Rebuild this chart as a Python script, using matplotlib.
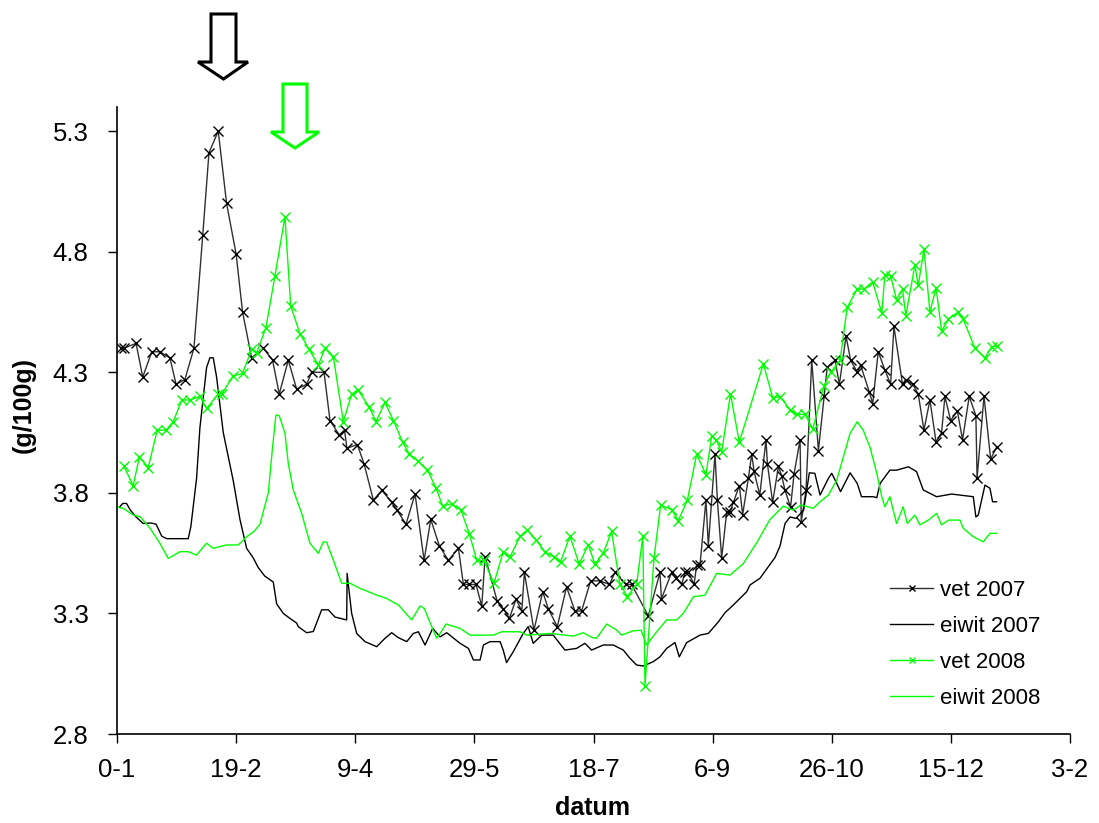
import matplotlib
matplotlib.use("Agg")
import matplotlib.pyplot as plt
from matplotlib.patches import Polygon

plt.rcParams['font.family'] = ['Liberation Sans', 'DejaVu Sans']

# x = dagnummer (0 = 0-1), y = g/100g
vet07_dag = [1.5, 3, 8, 10.8, 14.6, 18, 22.2, 24.8, 28.5, 32.3, 36, 38.6, 42.5, 46, 50, 52.7,
             56.5, 61.4, 65.3, 68.1, 71.9, 75.4, 79.6, 81.7, 86.9, 89.4, 93.3, 95.5, 96.5, 100.9,
             103.7, 107.6, 111.2, 115.3, 117.4, 121.3, 125.1, 128.9, 131.7, 135.3, 139.1, 143.3,
             145.4, 147.9, 150.7, 153.1, 154.5, 159.6, 162.1, 164.7, 167.5, 169.9, 171, 175,
             178.7, 181, 184.8, 188.7, 192.2, 195, 198.8, 202.7, 206.7, 209, 213.6, 216, 223,
             227.9, 228.5, 232.8, 234.6, 237, 238.4, 239.8, 242.2, 243.3, 244.7, 247.2, 248.2,
             251, 252, 253.8, 255.9, 257.3, 258.7, 261.2, 262.6, 265, 266.4, 267.4, 269.8,
             272.4, 273, 275.2, 277.6, 279, 280.4, 282.7, 284.2, 286.7, 287.2, 289.2, 291.6,
             294.4, 296.8, 298.1, 301.4, 303.2, 306, 307.9, 310.7, 312.1, 315.7, 317.2, 319.5,
             322.3, 324.7, 326.1, 329.7, 331, 334, 336.3, 338.7, 341.2, 343.8, 346.1, 347.5,
             349.9, 352.7, 354.9, 357.7, 360.5, 361, 363.9, 366.7, 369.2]
vet07 = [4.40, 4.40, 4.42, 4.28, 4.385, 4.385, 4.36, 4.25, 4.27, 4.40, 4.87, 5.21, 5.30, 5.00,
         4.79, 4.55, 4.36, 4.40, 4.35, 4.21, 4.35, 4.23, 4.25, 4.30, 4.30, 4.10, 4.04, 4.06,
         3.985, 4.00, 3.92, 3.77, 3.81, 3.76, 3.73, 3.67, 3.795, 3.52, 3.69, 3.58, 3.52, 3.57,
         3.42, 3.42, 3.42, 3.33, 3.535, 3.35, 3.32, 3.28, 3.36, 3.31, 3.47, 3.23, 3.39, 3.32,
         3.245, 3.41, 3.31, 3.31, 3.435, 3.435, 3.42, 3.47, 3.42, 3.42, 3.29, 3.47, 3.36, 3.47,
         3.445, 3.42, 3.47, 3.47, 3.42, 3.50, 3.50, 3.77, 3.58, 3.96, 3.77, 3.53, 3.72, 3.72,
         3.76, 3.83, 3.71, 3.86, 3.96, 3.89, 3.79, 4.02, 3.92, 3.76, 3.91, 3.87, 3.81, 3.74,
         3.88, 4.02, 3.68, 3.81, 4.35, 3.975, 4.20, 4.32, 4.35, 4.25, 4.45, 4.35, 4.30, 4.33,
         4.22, 4.17, 4.385, 4.31, 4.25, 4.49, 4.25, 4.27, 4.25, 4.21, 4.06, 4.185, 4.01, 4.05,
         4.20, 4.10, 4.14, 4.02, 4.20, 4.12, 3.86, 4.20, 3.94, 3.99]

eiwit07_dag = [1, 2.4, 4, 5.5, 8, 11, 14.3, 16.4, 18.8, 20.9, 25, 29.9, 31, 33.4, 34.8, 37.6,
               39, 40.4, 41.8, 44.6, 48.8, 51.6, 54.4, 57.2, 59.3, 62, 65.6, 67, 69.8, 72.5,
               75.4, 76.1, 79.6, 82.4, 85.9, 88.7, 91.5, 96.4, 96.6, 97.2, 98.5, 100.6, 104.1,
               109, 112.5, 115.3, 118, 121.6, 124.4, 126.5, 129.3, 132.5, 135.6, 138.4, 144,
               147.5, 149.6, 152.4, 153.8, 156.6, 160.8, 162.1, 163.5, 166.3, 170.5, 172.6,
               174.7, 178.3, 183.1, 188, 192.9, 196.4, 199.2, 204.1, 208.3, 212.5, 215.3,
               218.1, 220.9, 225.1, 227.9, 230.7, 234.2, 236, 239.1, 244.7, 248.2, 252.4,
               255.2, 258.7, 264.3, 265.7, 269.9, 273.4, 276.2, 278.3, 280.4, 282.5, 285,
               288.2, 290.6, 292.9, 295.1, 298.6, 300, 302.1, 303.7, 307.7, 310.7, 312.5,
               317.4, 318.9, 320.3, 324.4, 327.2, 332.2, 335.6, 338.4, 344, 350.3, 359.4,
               360.5, 361.5, 364.3, 366.4, 367.5, 369.2]
eiwit07 = [3.74, 3.756, 3.756, 3.73, 3.70, 3.673, 3.675, 3.67, 3.62, 3.61, 3.61, 3.61, 3.66,
           3.86, 4.07, 4.32, 4.36, 4.36, 4.28, 4.05, 3.85, 3.69, 3.57, 3.53, 3.49, 3.455, 3.43,
           3.34, 3.30, 3.28, 3.26, 3.245, 3.22, 3.225, 3.315, 3.315, 3.285, 3.273, 3.466, 3.41,
           3.30, 3.217, 3.183, 3.162, 3.197, 3.22, 3.20, 3.183, 3.217, 3.224, 3.169, 3.238,
           3.203, 3.22, 3.176, 3.155, 3.107, 3.107, 3.169, 3.183, 3.183, 3.148, 3.096, 3.141,
           3.217, 3.245, 3.176, 3.21, 3.21, 3.148, 3.155, 3.176, 3.148, 3.169, 3.169, 3.148,
           3.114, 3.086, 3.082, 3.10, 3.12, 3.155, 3.179, 3.12, 3.179, 3.21, 3.217, 3.265,
           3.303, 3.335, 3.39, 3.418, 3.446, 3.494, 3.532, 3.58, 3.673, 3.70, 3.694, 3.729,
           3.883, 3.881, 3.791, 3.86, 3.881, 3.839, 3.805, 3.883, 3.839, 3.784, 3.784, 3.78,
           3.839, 3.894, 3.894, 3.908, 3.888, 3.812, 3.784, 3.795, 3.784, 3.70, 3.708, 3.832,
           3.819, 3.763, 3.763]

vet08_dag = [2.9, 6.8, 9.4, 13.1, 16.9, 20.6, 23.6, 27.2, 30.6, 34.8, 37.6, 42.5, 44, 48.8,
             52.7, 56.5, 58.6, 62.5, 66.3, 70.5, 72.9, 76.8, 80.6, 84.5, 87.3, 90.8, 95, 98.5,
             101.3, 105.9, 108.7, 112.5, 116, 119.9, 122.7, 126.5, 130.3, 133.9, 136.7, 140.5,
             144.3, 147.9, 151, 154, 158.2, 162.1, 165, 169.2, 172.2, 175.9, 179.6, 183.4,
             186.2, 190.1, 194, 197.8, 200.6, 204.1, 207.6, 211.1, 214.2, 218.1, 220.7, 221.6,
             225.4, 228.2, 232.8, 235.6, 239.4, 243.3, 247.2, 249.6, 251.5, 253.8, 257.5, 261.2,
             271.3, 275.2, 278.3, 282.5, 285.3, 288.8, 292, 296.8, 299.6, 303.5, 306.5, 310.7,
             313.5, 317.2, 321, 322.3, 324.7, 327.2, 329.7, 331.1, 334.9, 336.3, 338.7, 341.2,
             343.8, 346.1, 348.9, 353.1, 355.2, 360.1, 364.3, 367.1, 369.2]
vet08 = [3.91, 3.83, 3.95, 3.905, 4.06, 4.06, 4.095, 4.185, 4.185, 4.20, 4.15, 4.21, 4.21,
         4.285, 4.295, 4.395, 4.38, 4.485, 4.70, 4.945, 4.575, 4.46, 4.395, 4.33, 4.40, 4.365,
         4.095, 4.21, 4.225, 4.155, 4.095, 4.175, 4.10, 4.01, 3.96, 3.93, 3.895, 3.82, 3.745,
         3.755, 3.73, 3.63, 3.52, 3.52, 3.425, 3.555, 3.535, 3.62, 3.645, 3.605, 3.555, 3.535,
         3.515, 3.62, 3.505, 3.585, 3.505, 3.55, 3.64, 3.42, 3.37, 3.42, 3.62, 3.00, 3.53,
         3.75, 3.73, 3.685, 3.77, 3.96, 3.875, 4.035, 4.02, 3.97, 4.21, 4.01, 4.335, 4.195,
         4.198, 4.145, 4.125, 4.125, 4.065, 4.245, 4.30, 4.35, 4.57, 4.645, 4.645, 4.675,
         4.545, 4.705, 4.70, 4.60, 4.645, 4.535, 4.745, 4.66, 4.81, 4.55, 4.65, 4.47, 4.52,
         4.55, 4.52, 4.40, 4.36, 4.405, 4.41]

eiwit08_dag = [0.5, 2.6, 6.8, 9.7, 13.9, 18, 21.5, 26.4, 29.9, 33.4, 37.6, 40.4, 46, 50.9,
               54.4, 57.5, 60, 63.5, 65.3, 66.7, 68.1, 70.5, 71.9, 74, 77.5, 81, 84.5, 86.6, 88,
               90.8, 94.3, 97.8, 102, 109, 113.2, 118.1, 123.7, 127.2, 129, 132.1, 134.2, 135.6,
               138.1, 144, 148.2, 158, 161.5, 169.2, 172, 181.7, 191.5, 195.7, 199.2, 201.3,
               205.5, 209.7, 211.8, 216.7, 220, 222.3, 226.5, 230.7, 234.9, 237.7, 241.9, 246.8,
               251.7, 257.3, 262.9, 268.5, 274.1, 279.7, 283.9, 287, 292.3, 295.1, 298.6, 302.1,
               304.9, 307.7, 310.7, 313.2, 316, 318.9, 321, 322.3, 324.4, 327.2, 330, 331.7,
               334.9, 337, 341, 344, 346.1, 349, 353.8, 355.2, 359.4, 363.6, 366.4, 369.2]
eiwit08 = [3.74, 3.736, 3.708, 3.701, 3.653, 3.591, 3.528, 3.556, 3.556, 3.542, 3.591, 3.570,
           3.584, 3.584, 3.618, 3.64, 3.67, 3.80, 3.99, 4.123, 4.12, 4.047, 3.922, 3.812,
           3.715, 3.591, 3.549, 3.597, 3.595, 3.521, 3.425, 3.425, 3.404, 3.376, 3.362, 3.335,
           3.273, 3.331, 3.32, 3.245, 3.197, 3.217, 3.256, 3.238, 3.21, 3.21, 3.224, 3.224,
           3.21, 3.217, 3.206, 3.22, 3.201, 3.197, 3.256, 3.231, 3.21, 3.228, 3.23, 3.169,
           3.224, 3.273, 3.273, 3.300, 3.369, 3.376, 3.466, 3.459, 3.507, 3.593, 3.69, 3.745,
           3.728, 3.75, 3.736, 3.763, 3.791, 3.853, 3.950, 4.047, 4.095, 4.060, 3.991, 3.881,
           3.784, 3.742, 3.784, 3.673, 3.742, 3.673, 3.708, 3.667, 3.69, 3.715, 3.667, 3.687,
           3.687, 3.653, 3.618, 3.597, 3.632, 3.632]

x_ticks = [0, 50, 100, 150, 200, 250, 300, 350, 400]
x_labels = ['0-1', '19-2', '9-4', '29-5', '18-7', '6-9', '26-10', '15-12', '3-2']
y_ticks = [2.8, 3.3, 3.8, 4.3, 4.8, 5.3]

groen = '#00ff00'

fig = plt.figure(figsize=(10.99, 8.23), dpi=100)
ax = fig.add_axes([117/1099, 1-734/823, 953/1099, 627/823])

ax.plot(vet07_dag, vet07, color='#303030', lw=1, marker='x', ms=7, mew=1, mec='black', label='vet 2007')
ax.plot(eiwit07_dag, eiwit07, color='black', lw=1, label='eiwit 2007')
ax.plot(vet08_dag, vet08, color=groen, lw=1, marker='x', ms=7, mew=1, label='vet 2008')
ax.plot(eiwit08_dag, eiwit08, color=groen, lw=1, label='eiwit 2008')

ax.set_xlim(0, 400)
ax.set_ylim(2.8, 5.4)
ax.set_xticks(x_ticks)
ax.set_xticklabels(x_labels)
ax.set_yticks(y_ticks)
ax.set_yticklabels([f'{v:.1f}' for v in y_ticks])
ax.tick_params(axis='both', direction='out', length=6.5, width=1, labelsize=18.5, color='black')
ax.tick_params(axis='x', pad=11)
ax.tick_params(axis='y', pad=14)
for s in ['top', 'right']:
    ax.spines[s].set_visible(False)
for s in ['left', 'bottom']:
    ax.spines[s].set_linewidth(1.2)

fig.text(593/1099, 1-808/823, 'datum', ha='center', va='center', fontsize=18, fontweight='bold')
fig.text(24/1099, 1-405/823, '(g/100g)', ha='center', va='center', rotation=90,
         fontsize=18, fontweight='bold')

ax.legend(loc='upper left', bbox_to_anchor=(890/1099, 1-580/823), bbox_transform=fig.transFigure,
          frameon=False, fontsize=16, handlelength=1.95, handletextpad=0.32, labelspacing=0.67,
          borderpad=0, borderaxespad=0, markerscale=0.6)

# pijlen boven de grafiek
def pijl(xl, xr, hl, hr, ytop, yneck, ytip, kleur):
    xm = (xl + xr) / 2
    pts = [(xl, ytop), (xr, ytop), (xr, yneck), (hr, yneck), (xm, ytip), (hl, yneck), (xl, yneck)]
    pts = [(x/1099, 1 - y/823) for x, y in pts]
    fig.patches.append(Polygon(pts, closed=True, transform=fig.transFigure, facecolor='white',
                               edgecolor=kleur, lw=2.2, zorder=5))

pijl(211, 236, 198, 248, 14, 62, 79, 'black')
pijl(283, 307, 271, 319, 84, 132, 148, groen)

fig.savefig('out.png', dpi=100)
